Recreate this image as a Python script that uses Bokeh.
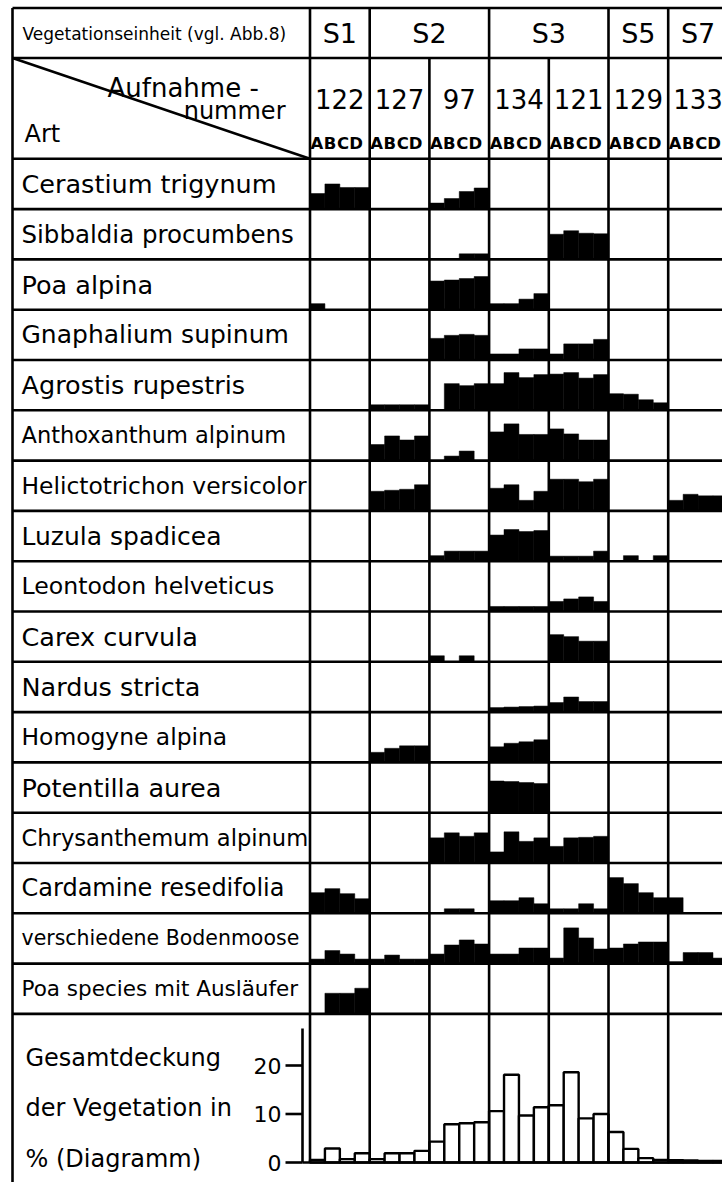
from bokeh.plotting import figure
from bokeh.models import Range1d
from bokeh.core.properties import value
from bokeh.embed import file_html
from bokeh.resources import INLINE

# ---------------- data ----------------
veg_units = ["S1", "S2", "S2", "S3", "S3", "S5", "S7"]
releves = ["122", "127", "97", "134", "121", "129", "133"]
subplots = ["A", "B", "C", "D"]

species = [
    "Cerastium trigynum", "Sibbaldia procumbens", "Poa alpina",
    "Gnaphalium supinum", "Agrostis rupestris", "Anthoxanthum alpinum",
    "Helictotrichon versicolor", "Luzula spadicea", "Leontodon helveticus",
    "Carex curvula", "Nardus stricta", "Homogyne alpina", "Potentilla aurea",
    "Chrysanthemum alpinum", "Cardamine resedifolia",
    "verschiedene Bodenmoose", "Poa species mit Ausläufer",
]

# relative share per species, A-D for each relevé (122,127,97,134,121,129,133), % of cell
cerastium = [31, 50, 43, 43, 0, 0, 0, 0, 12, 21, 35, 42, 0, 0, 0, 0, 0, 0, 0, 0, 0, 0, 0, 0, 0, 0, 0, 0]
sibbaldia = [0, 0, 0, 0, 0, 0, 0, 0, 0, 0, 11, 11, 0, 0, 0, 0, 50, 57, 52, 51, 0, 0, 0, 0, 0, 0, 0, 0]
poa_alpina = [12, 0, 0, 0, 0, 0, 0, 0, 57, 59, 62, 66, 12, 12, 21, 32, 0, 0, 0, 0, 0, 0, 0, 0, 0, 0, 0, 0]
gnaphalium = [0, 0, 0, 0, 0, 0, 0, 0, 43, 49, 51, 49, 12, 12, 22, 22, 12, 32, 32, 41, 0, 0, 0, 0, 0, 0, 0, 0]
agrostis = [0, 0, 0, 0, 11, 11, 11, 11, 0, 53, 49, 53, 53, 75, 65, 71, 72, 75, 64, 71, 33, 32, 21, 15, 0, 0, 0, 0]
anthoxanthum = [0, 0, 0, 0, 32, 49, 41, 49, 0, 9, 19, 0, 57, 73, 52, 52, 63, 53, 41, 41, 0, 0, 0, 0, 0, 0, 0, 0]
helictotrichon = [0, 0, 0, 0, 39, 41, 43, 52, 0, 0, 0, 0, 45, 52, 21, 39, 63, 63, 58, 63, 0, 0, 0, 0, 21, 33, 30, 30]
luzula = [0, 0, 0, 0, 0, 0, 0, 0, 11, 20, 20, 20, 52, 63, 59, 61, 10, 10, 10, 20, 0, 11, 0, 11, 0, 0, 0, 0]
leontodon = [0, 0, 0, 0, 0, 0, 0, 0, 0, 0, 0, 0, 10, 10, 10, 10, 20, 25, 29, 20, 0, 0, 0, 0, 0, 0, 0, 0]
carex = [0, 0, 0, 0, 0, 0, 0, 0, 12, 0, 12, 0, 0, 0, 0, 0, 54, 50, 41, 41, 0, 0, 0, 0, 0, 0, 0, 0]
nardus = [0, 0, 0, 0, 0, 0, 0, 0, 0, 0, 0, 0, 9, 10, 11, 12, 19, 30, 21, 21, 0, 0, 0, 0, 0, 0, 0, 0]
homogyne = [0, 0, 0, 0, 20, 28, 33, 33, 0, 0, 0, 0, 31, 38, 41, 45, 0, 0, 0, 0, 0, 0, 0, 0, 0, 0, 0, 0]
potentilla = [0, 0, 0, 0, 0, 0, 0, 0, 0, 0, 0, 0, 63, 62, 60, 58, 0, 0, 0, 0, 0, 0, 0, 0, 0, 0, 0, 0]
chrysanthemum = [0, 0, 0, 0, 0, 0, 0, 0, 50, 60, 53, 60, 22, 62, 43, 50, 33, 50, 51, 53, 0, 0, 0, 0, 0, 0, 0, 0]
cardamine = [41, 49, 39, 29, 0, 0, 0, 0, 0, 9, 9, 0, 25, 25, 31, 19, 9, 9, 19, 9, 71, 59, 41, 31, 31, 0, 0, 0]
bodenmoose = [9, 26, 19, 9, 9, 17, 9, 9, 19, 37, 47, 39, 19, 19, 31, 31, 11, 71, 51, 29, 31, 39, 43, 43, 4, 22, 22, 11]
poa_species = [0, 41, 41, 51, 0, 0, 0, 0, 0, 0, 0, 0, 0, 0, 0, 0, 0, 0, 0, 0, 0, 0, 0, 0, 0, 0, 0, 0]

species_cover = [cerastium, sibbaldia, poa_alpina, gnaphalium, agrostis, anthoxanthum,
                 helictotrichon, luzula, leontodon, carex, nardus, homogyne, potentilla,
                 chrysanthemum, cardamine, bodenmoose, poa_species]

# Gesamtdeckung der Vegetation in % (A-D per relevé)
total_cover = [0.55, 2.9, 0.7, 1.9, 0.7, 1.9, 1.9, 2.4, 4.3, 7.9, 8.1, 8.3,
               10.6, 18.1, 9.7, 11.4, 11.8, 18.6, 9.1, 10.0, 6.3, 2.8, 0.9, 0.55,
               0.5, 0.4, 0.3, 0.3]
cover_ticks = [0, 10, 20]

header_label = "Vegetationseinheit (vgl. Abb.8)"
bottom_labels = ["Gesamtdeckung", "der Vegetation in", "% (Diagramm)"]

# ---------------- layout / styles (pixels) ----------------
X0 = 12.0          # table left border
XL = 309.5         # start of relevé columns
CW = 59.7          # relevé column width
SW = CW / 4.0      # sub-column width
Y_TOP = 7.5
Y_H1 = 57.5
Y_H2 = 158.3
RH = 50.3
N_ROWS = len(species)
BASE = 1162.0
HS = 4.85          # px per % total cover
AXIS_X = 302.0
AXIS_TOP = 1028.0
RIGHT = XL + len(releves) * CW
FONT = "DejaVu Sans"
LW = 2.6
# hand-lettered names have different spacing: per-label font sizes
label_sizes = ["25.5px", "24.5px", "25.5px", "25px", "25.5px", "22.5px", "23.4px", "25px",
               "23.6px", "25.5px", "25.5px", "23.4px", "25.5px", "22.6px", "24px", "20.5px", "21.5px"]

W, H = 722, 1182
p = figure(width=W, height=H, x_range=Range1d(0, W), y_range=Range1d(H, 0),
           output_backend="svg", toolbar_location=None,
           x_axis_location=None, y_axis_location=None, min_border=0)
p.grid.visible = False
p.outline_line_color = None
p.background_fill_color = "white"
p.border_fill_color = "white"

# ---- species bars ----
L, R, T, B = [], [], [], []
for r, vals in enumerate(species_cover):
    ybot = Y_H2 + (r + 1) * RH
    for i, v in enumerate(vals):
        if v <= 0:
            continue
        c, s = divmod(i, 4)
        left = XL + c * CW + s * SW
        L.append(left)
        R.append(left + SW)
        B.append(ybot)
        T.append(ybot - v / 100.0 * RH)
p.quad(left=L, right=R, top=T, bottom=B, fill_color="black", line_color="black", line_width=0.5)

# ---- total cover histogram ----
HL, HR, HT, HB = [], [], [], []
for i, v in enumerate(total_cover):
    c, s = divmod(i, 4)
    left = XL + c * CW + s * SW
    HL.append(left)
    HR.append(left + SW)
    HB.append(BASE)
    HT.append(BASE - v * HS)
p.quad(left=HL, right=HR, top=HT, bottom=HB, fill_color="white", line_color="black", line_width=2.4)

# ---- grid lines ----
x0s, y0s, x1s, y1s = [], [], [], []
def seg(a, b, c, d):
    x0s.append(a); y0s.append(b); x1s.append(c); y1s.append(d)

seg(X0, Y_TOP, X0, H)
seg(XL, Y_TOP, XL, BASE)
for i in range(1, len(releves)):
    x = XL + i * CW
    top = Y_TOP if veg_units[i] != veg_units[i - 1] else Y_H1
    seg(x, top, x, BASE)
for y in [Y_TOP, Y_H1, Y_H2] + [Y_H2 + k * RH for k in range(1, N_ROWS + 1)]:
    seg(X0, y, RIGHT, y)
seg(AXIS_X, BASE, RIGHT, BASE)
seg(X0, Y_H1, XL, Y_H2)          # diagonal
seg(AXIS_X, AXIS_TOP, AXIS_X, BASE)
for t in cover_ticks:
    y = BASE - t * HS
    seg(AXIS_X - 17, y, AXIS_X, y)
p.segment(x0=x0s, y0=y0s, x1=x1s, y1=y1s, line_color="black", line_width=LW)

# ---- texts ----
def txt(xs, ys, ts, size, align="left", baseline="middle", style="normal"):
    fs = size if isinstance(size, list) else value(size)
    p.text(x=xs, y=ys, text=ts, text_font=value(FONT), text_font_size=fs,
           text_align=align, text_baseline=baseline, text_color="black",
           text_font_style=style)

txt([22], [33], [header_label], "17px")

# vegetation unit groups
gx, gt = [], []
start = 0
for i in range(1, len(veg_units) + 1):
    if i == len(veg_units) or veg_units[i] != veg_units[start]:
        gx.append(XL + (start + i) / 2.0 * CW)
        gt.append(veg_units[start])
        start = i
txt(gx, [33] * len(gx), gt, "27px", align="center")

txt([XL + (c + 0.5) * CW for c in range(len(releves))], [98] * len(releves), releves, "26px", align="center")

# A B C D letters, packed tightly at the left of each relevé column
ax, ay, at = [], [], []
for c in range(len(releves)):
    for s, lab in enumerate(subplots):
        ax.append(XL + c * CW + 7.0 + s * 13.0)
        ay.append(143)
        at.append(lab)
txt(ax, ay, at, "16.5px", align="center", style="bold")

txt([107], [87], ["Aufnahme -"], "26px", baseline="alphabetic")
txt([285], [110], ["nummer"], "24px", align="right", baseline="alphabetic")
txt([24], [133], ["Art"], "24px", baseline="alphabetic")

txt([21] * N_ROWS, [Y_H2 + (r + 0.5) * RH for r in range(N_ROWS)], species, label_sizes)

txt([25] * 3, [1057, 1107, 1158], bottom_labels, "24px")
txt([281] * len(cover_ticks), [BASE - t * HS for t in cover_ticks], [str(t) for t in cover_ticks], "22px", align="right")

open("out.html", "w").write(file_html(p, INLINE))
